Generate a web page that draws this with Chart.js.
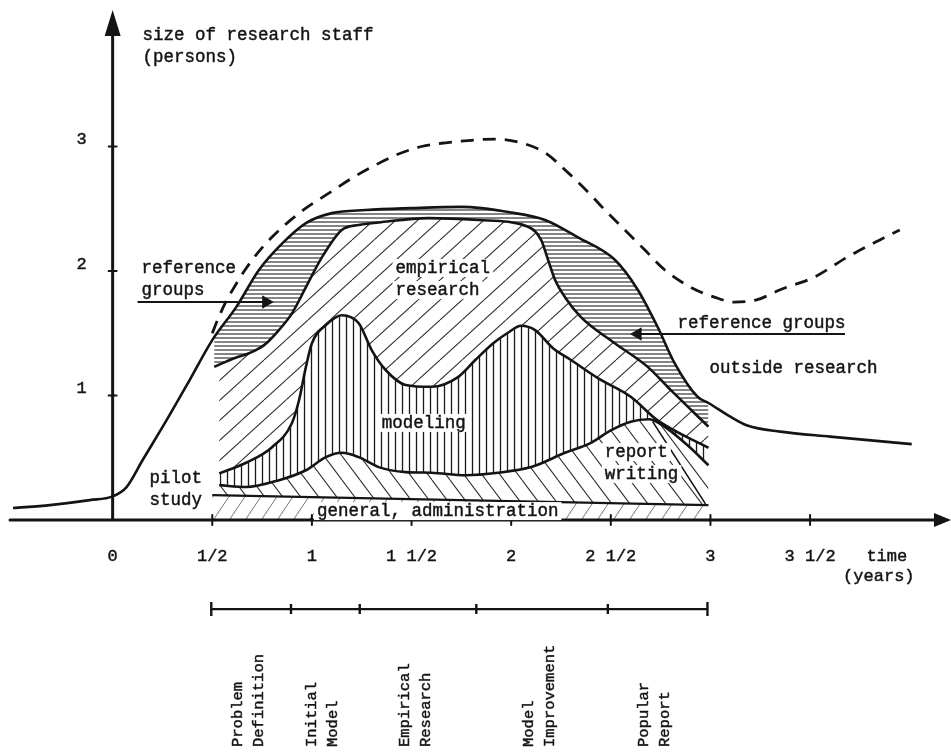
<!DOCTYPE html>
<html>
<head>
<meta charset="utf-8">
<script src="https://cdn.jsdelivr.net/npm/chart.js@4.4.1/dist/chart.umd.min.js"></script>
<style>
  html, body { margin: 0; padding: 0; background: #fff; }
  #wrap { width: 951px; height: 755px; }
</style>
</head>
<body>
<div id="wrap"><canvas id="c" width="951" height="755"></canvas></div>
<script>
// axes: time in years, staff in persons
const xTicks = [0, 0.5, 1, 1.5, 2, 2.5, 3, 3.5];
const xTickLabels = ['0', '1/2', '1', '1 1/2', '2', '2 1/2', '3', '3 1/2'];
const yTicks = [1, 2, 3];
const yTickLabels = ['1', '2', '3'];

// total research staff (outer solid curve)
const totalX = [-0.50, -0.315, -0.115, 0, 0.07, 0.15, 0.27, 0.385, 0.50, 0.62, 0.735, 0.85, 0.97, 1.10, 1.27, 1.50, 1.75, 2.00, 2.17, 2.335, 2.52, 2.635, 2.735, 2.82, 2.935, 2.99, 3.10, 3.185, 3.35, 3.60, 4.01];
const totalY = [0.096, 0.12, 0.16, 0.19, 0.265, 0.48, 0.80, 1.12, 1.445, 1.71, 2.01, 2.22, 2.385, 2.465, 2.49, 2.505, 2.515, 2.47, 2.41, 2.27, 2.09, 1.85, 1.55, 1.26, 0.99, 0.94, 0.83, 0.76, 0.71, 0.67, 0.61];

// top of empirical research (below the reference groups band)
const empX = [0.51, 0.61, 0.685, 0.76, 0.82, 0.90, 0.97, 1.05, 1.15, 1.235, 1.335, 1.585, 1.835, 2.085, 2.15, 2.185, 2.22, 2.27, 2.35, 2.52, 2.685, 2.80, 2.99];
const empY = [1.23, 1.30, 1.34, 1.405, 1.50, 1.66, 1.87, 2.11, 2.33, 2.37, 2.39, 2.425, 2.41, 2.355, 2.25, 2.09, 1.93, 1.79, 1.63, 1.42, 1.23, 1.045, 0.75];

// top of modeling
const modX = [0.535, 0.67, 0.80, 0.90, 0.935, 0.97, 1.00, 1.07, 1.15, 1.235, 1.30, 1.37, 1.47, 1.60, 1.735, 1.82, 1.91, 1.98, 2.05, 2.12, 2.21, 2.30, 2.435, 2.60, 2.735, 2.99];
const modY = [0.375, 0.46, 0.585, 0.78, 0.96, 1.23, 1.42, 1.565, 1.645, 1.58, 1.365, 1.205, 1.085, 1.07, 1.15, 1.285, 1.42, 1.50, 1.56, 1.525, 1.38, 1.285, 1.14, 0.99, 0.80, 0.58];

// top of pilot study / report writing
const repX = [0.535, 0.67, 0.835, 0.97, 1.07, 1.15, 1.235, 1.335, 1.47, 1.60, 1.77, 1.935, 2.10, 2.27, 2.40, 2.50, 2.60, 2.69, 2.76, 2.885, 2.99];
const repY = [0.28, 0.265, 0.32, 0.40, 0.505, 0.54, 0.505, 0.425, 0.385, 0.38, 0.36, 0.38, 0.425, 0.54, 0.62, 0.72, 0.79, 0.81, 0.76, 0.60, 0.44];

// top of general administration
const admX = [0.50, 2.99];
const admY = [0.20, 0.12];

// right edge of the report writing block
const edgeX = [2.71, 2.975];
const edgeY = [0.79, 0.13];

// dashed curve
const dashX = [0.50, 0.53, 0.565, 0.61, 0.665, 0.725, 0.795, 0.875, 0.97, 1.085, 1.20, 1.30, 1.42, 1.55, 1.67, 1.80, 1.92, 2.05, 2.17, 2.285, 2.385, 2.47, 2.57, 2.67, 2.77, 2.90, 3.02, 3.12, 3.235, 3.35, 3.52, 3.685, 3.85, 3.95];
const dashY = [1.50, 1.62, 1.743, 1.87, 2.01, 2.14, 2.265, 2.385, 2.505, 2.625, 2.745, 2.835, 2.93, 3.00, 3.03, 3.05, 3.06, 3.03, 2.95, 2.79, 2.635, 2.49, 2.33, 2.17, 2.01, 1.87, 1.79, 1.75, 1.77, 1.85, 1.95, 2.11, 2.25, 2.33];

// arrows to the reference groups bands
const arrowLeftX = [0.125, 0.77];
const arrowLeftY = [1.751, 1.751];
const arrowRightX = [3.675, 2.635];
const arrowRightY = [1.494, 1.494];

// project phases under the time axis
const phaseBounds = [0.495, 0.895, 1.24, 1.825, 2.485, 2.985];
const phaseNames = [['Problem', 'Definition'], ['Initial', 'Model'], ['Empirical', 'Research'], ['Model', 'Improvement'], ['Popular', 'Report']];
const timelineY = -0.715;

const ink = '#141414';
const mono = '"Liberation Mono", "DejaVu Sans Mono", monospace';

const pts = (xs, ys) => xs.map((x, i) => ({x, y: ys[i]}));

const canvas = document.getElementById('c');
const mainCtx = canvas.getContext('2d');

function hatch(w, h, width, color, paint) {
  const c = document.createElement('canvas');
  c.width = w; c.height = h;
  const g = c.getContext('2d');
  g.strokeStyle = color;
  g.lineWidth = width;
  g.beginPath();
  paint(g, w, h);
  g.stroke();
  return mainCtx.createPattern(c, 'repeat');
}
const slashes = (g, w, h) => { for (let k = -1; k <= 1; k++) { g.moveTo(k * w, h); g.lineTo(k * w + w, 0); } };
const backslashes = (g, w, h) => { for (let k = -1; k <= 1; k++) { g.moveTo(k * w, 0); g.lineTo(k * w + w, h); } };

const hatchRef = hatch(10, 4, 1.1, '#222', (g, w, h) => { g.moveTo(0, 2); g.lineTo(w, 2); });
const hatchEmp = hatch(22, 20, 1.1, '#333', slashes);
const hatchMod = hatch(7, 10, 1.3, '#1a1a1a', (g, w, h) => { g.moveTo(3.5, 0); g.lineTo(3.5, h); });
const hatchRep = hatch(18, 24, 1.1, '#333', backslashes);
const hatchAdm = hatch(16, 24, 0.9, '#666', slashes);

const paper = {
  id: 'paper',
  afterDatasetsDraw(chart) {
    const {ctx, scales: {x, y}} = chart;
    const X = v => x.getPixelForValue(v);
    const Y = v => y.getPixelForValue(v);
    ctx.save();
    ctx.strokeStyle = ink;
    ctx.fillStyle = ink;
    ctx.lineCap = 'round';

    // axes with arrow heads
    ctx.lineWidth = 3;
    ctx.beginPath();
    ctx.moveTo(10, Y(0));
    ctx.lineTo(938, Y(0));
    ctx.moveTo(X(0), Y(0));
    ctx.lineTo(X(0), 30);
    ctx.stroke();
    ctx.beginPath();
    ctx.moveTo(951, Y(0)); ctx.lineTo(934, Y(0) - 7); ctx.lineTo(934, Y(0) + 7); ctx.closePath();
    ctx.moveTo(X(0), 10); ctx.lineTo(X(0) - 8, 36); ctx.lineTo(X(0) + 8, 36); ctx.closePath();
    ctx.fill();

    // tick marks
    ctx.lineWidth = 2;
    ctx.beginPath();
    xTicks.forEach(v => { if (v) { ctx.moveTo(X(v), Y(0) - 5); ctx.lineTo(X(v), Y(0) + 5); } });
    yTicks.forEach(v => { ctx.moveTo(X(0) - 4, Y(v)); ctx.lineTo(X(0) + 4, Y(v)); });
    ctx.stroke();

    const write = (t, px, py) => {
      ctx.lineWidth = 0.45;
      ctx.fillText(t, px, py);
      ctx.strokeText(t, px, py);
    };

    // tick labels
    ctx.font = '17px ' + mono;
    ctx.textBaseline = 'middle';
    ctx.textAlign = 'center';
    xTicks.forEach((v, i) => write(xTickLabels[i], X(v), Y(0) + 36));
    yTicks.forEach((v, i) => write(yTickLabels[i], X(0) - 31, Y(v) - 7));
    write('time', X(3.885), Y(-0.289));
    write('(years)', X(3.845), Y(-0.45));

    // annotations; the ones inside hatched areas get a clear box
    ctx.font = '17.5px ' + mono;
    ctx.textAlign = 'left';
    const notes = [
      ['size of research staff', 0.15, 3.896, false],
      ['(persons)', 0.15, 3.72, false],
      ['reference', 0.145, 2.02, false],
      ['groups', 0.145, 1.845, false],
      ['empirical', 1.42, 2.024, true],
      ['research', 1.42, 1.847, true],
      ['modeling', 1.35, 0.78, true],
      ['report', 2.47, 0.546, true],
      ['writing', 2.47, 0.37, true],
      ['pilot', 0.185, 0.337, false],
      ['study', 0.185, 0.161, false],
      ['general, administration', 1.025, 0.072, true],
      ['reference groups', 2.835, 1.582, false],
      ['outside research', 2.995, 1.22, false]
    ];
    notes.forEach(([t, a, b, clear]) => {
      if (clear) {
        const w = ctx.measureText(t).width;
        ctx.fillStyle = '#fff';
        ctx.fillRect(X(a) - 3, Y(b) - 9, w + 6, 18);
        ctx.fillStyle = ink;
      }
      write(t, X(a), Y(b));
    });

    // phase names, written upwards under the time line
    ctx.font = '15.5px ' + mono;
    phaseNames.forEach((pair, i) => {
      const mid = X((phaseBounds[i] + phaseBounds[i + 1]) / 2) - 3;
      pair.forEach((t, j) => {
        ctx.save();
        ctx.translate(mid + (j ? 10.5 : -10.5), 747);
        ctx.rotate(-Math.PI / 2);
        write(t, 0, 0);
        ctx.restore();
      });
    });
    ctx.restore();
  }
};

const curve = (label, data, extra) => Object.assign({
  label, data,
  borderColor: ink,
  borderWidth: 2.6,
  pointRadius: 0,
  fill: false
}, extra);

new Chart(canvas, {
  type: 'line',
  data: {
    datasets: [
      curve('total staff', pts(totalX, totalY), {fill: {target: 1}, backgroundColor: hatchRef}),
      curve('empirical research', pts(empX, empY), {fill: {target: 2}, backgroundColor: hatchEmp}),
      curve('modeling', pts(modX, modY), {fill: {target: 3}, backgroundColor: hatchMod}),
      curve('report writing', pts(repX, repY), {fill: {target: 4}, backgroundColor: hatchRep}),
      curve('general administration', pts(admX, admY), {fill: 'origin', backgroundColor: hatchAdm, borderWidth: 2.2}),
      curve('report edge', pts(edgeX, edgeY), {borderWidth: 1.6}),
      curve('alternative', pts(dashX, dashY), {borderWidth: 2.8, borderDash: [13, 9]}),
      curve('arrow left', pts(arrowLeftX, arrowLeftY), {
        borderWidth: 1.8, pointRadius: [0, 6], pointStyle: 'triangle', pointRotation: 90,
        pointBackgroundColor: ink, pointBorderColor: ink
      }),
      curve('arrow right', pts(arrowRightX, arrowRightY), {
        borderWidth: 1.8, pointRadius: [0, 6], pointStyle: 'triangle', pointRotation: -90,
        pointBackgroundColor: ink, pointBorderColor: ink
      }),
      curve('phases', phaseBounds.map(v => ({x: v, y: timelineY})), {
        borderWidth: 2.2, pointStyle: 'line', pointRotation: 90,
        pointRadius: phaseBounds.map((v, i) => (i === 0 || i === phaseBounds.length - 1) ? 7 : 5),
        pointBorderColor: ink, pointBorderWidth: 2.4
      })
    ]
  },
  options: {
    responsive: false,
    animation: false,
    events: [],
    layout: {padding: {left: 13, right: 6, top: 22, bottom: 100.5}},
    elements: {line: {cubicInterpolationMode: 'monotone'}},
    scales: {
      x: {type: 'linear', min: -0.5, max: 4.16, display: false},
      y: {type: 'linear', min: -1.08, max: 4, display: false}
    },
    plugins: {
      legend: {display: false},
      tooltip: {enabled: false},
      filler: {drawTime: 'beforeDatasetsDraw'}
    }
  },
  plugins: [paper]
});
</script>
</body>
</html>
